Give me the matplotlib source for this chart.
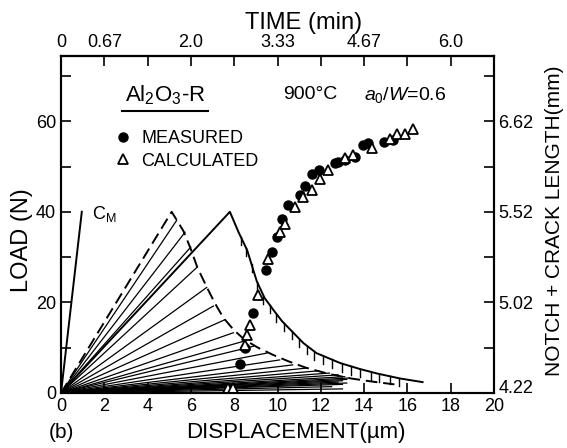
import matplotlib.pyplot as plt
import numpy as np

plt.rcParams['font.family'] = ['Liberation Sans', 'DejaVu Sans']
plt.rcParams['mathtext.fontset'] = 'custom'
plt.rcParams['mathtext.rm'] = 'Liberation Sans'
plt.rcParams['mathtext.it'] = 'Liberation Sans:italic'

# load-displacement curves (displacement in um, load in N)
cm_x = [0, 0.96]
cm_y = [0, 40]

dash_x = [0, 5.11, 5.65, 5.96, 6.3, 6.73, 7.11, 7.5, 8.0, 8.5, 9.1, 9.8, 10.5, 11.3, 12.3, 13.4, 14.4, 15.4]
dash_y = [0, 40, 35.8, 32.2, 27.7, 23.4, 19.8, 16.6, 13.8, 11.7, 10.0, 8.4, 7.0, 5.6, 4.3, 3.2, 2.5, 1.9]

solid_x = [0, 7.8, 8.2, 8.6, 9.04, 9.4, 9.8, 10.2, 10.73, 11.2, 11.8, 12.4, 12.9, 13.8, 14.6, 15.66, 16.7]
solid_y = [0, 40, 35.5, 31.5, 24.7, 21.0, 18.4, 15.9, 13.3, 11.0, 8.8, 7.6, 6.6, 5.3, 4.3, 3.2, 2.4]

# hatch marks on the solid descending branch
hatch_x = [8.3, 8.55, 8.8, 9.05, 9.35, 9.65, 9.95, 10.3, 10.65, 11.0, 11.35, 11.7,
           12.1, 12.5, 13.0, 13.4, 13.8, 14.3, 14.7, 15.2, 15.6]

# unloading lines from the origin (end points)
fan_x = [5.34, 5.73, 5.99, 6.27, 6.73, 7.04, 7.58, 7.96, 8.42, 8.88, 9.5, 10.1, 10.7,
         11.35, 11.9, 12.4, 12.8, 13.1, 13.3, 13.2, 13.0, 12.8, 13.2, 13.0, 12.5, 13.0]
fan_y = [38.1, 35.5, 32.2, 27.7, 23.3, 19.2, 16.2, 13.3, 11.4, 10.3, 8.8, 7.3, 6.2,
         5.5, 4.9, 4.4, 4.0, 3.6, 3.3, 3.0, 2.7, 2.4, 2.2, 1.9, 1.4, 0.9]

# notch + crack length (mm) vs displacement
meas_x = [8.27, 8.5, 8.85, 9.47, 9.73, 9.96, 10.2, 10.5, 11.04, 11.27, 11.58, 11.9,
          12.66, 12.8, 13.1, 13.6, 13.96, 14.2, 14.9, 15.35]
meas_a = [4.48, 4.62, 4.93, 5.20, 5.30, 5.38, 5.48, 5.60, 5.72, 5.83, 5.98, 6.03,
          6.11, 6.13, 6.15, 6.19, 6.33, 6.35, 6.37, 6.39]
calc_x = [7.7, 7.95, 8.5, 8.58, 8.73, 9.11, 9.58, 10.1, 10.35, 10.8, 11.2, 11.58,
          11.96, 12.35, 13.1, 13.5, 14.35, 15.2, 15.5, 15.9, 16.27]
calc_a = [4.26, 4.26, 4.64, 4.73, 4.82, 5.06, 5.26, 5.41, 5.45, 5.58, 5.70, 5.78,
          5.92, 6.03, 6.17, 6.21, 6.29, 6.41, 6.46, 6.47, 6.52]

# axis tick values
x_ticks = list(range(0, 21, 2))
load_ticks = [0, 20, 40, 60]
crack_ticks = [4.22, 5.02, 5.52, 6.62]
crack_labels = ['4.22', '5.02', '5.52', '6.62']
time_ticks = [0, 2 / 3, 2.0, 10 / 3, 14 / 3, 6.0]
time_labels = ['0', '0.67', '2.0', '3.33', '4.67', '6.0']

# right axis is not linear: crack length at the load grid lines
MM_REF = [3.42, 4.22, 5.02, 5.52, 6.62, 7.445, 8.27]
LOAD_REF = [-20, 0, 20, 40, 60, 75, 90]


def mm_to_load(v):
    return np.interp(v, MM_REF, LOAD_REF)


def load_to_mm(v):
    return np.interp(v, LOAD_REF, MM_REF)


YTOP = 74.5

fig = plt.figure(figsize=(5.67, 4.48), dpi=100)
ax = fig.add_subplot(111)
fig.subplots_adjust(left=0.1076, right=0.8713, bottom=0.1228, top=0.876)

lw = 1.4
ax.plot(cm_x, cm_y, color='k', lw=lw)
ax.plot(dash_x, dash_y, color='k', lw=lw, ls=(0, (6, 3)))
ax.plot(solid_x, solid_y, color='k', lw=lw)
for fx, fy in zip(fan_x, fan_y):
    ax.plot([0, fx], [0, fy], color='k', lw=0.9)
hatch_y = np.interp(hatch_x, solid_x[1:], solid_y[1:])
for hx, hy in zip(hatch_x, hatch_y):
    ax.plot([hx, hx], [hy, hy - 1.8], color='k', lw=1.0)

ax.set_xlim(0, 20)
ax.set_ylim(0, YTOP)
ax.set_xticks(x_ticks)
ax.set_yticks(load_ticks)
ax.set_yticks([10, 30, 50, 70], minor=True)
ax.tick_params(which='both', direction='in', length=7, width=1.2, labelsize=13)

# right axis: crack length
ax2 = ax.twinx()
ax2.set_yscale('function', functions=(mm_to_load, load_to_mm))
ax2.set_ylim(4.22, float(load_to_mm(YTOP)))
ax2.plot(meas_x, meas_a, 'o', color='k', ms=6.5, label='MEASURED')
ax2.plot(calc_x, calc_a, '^', mfc='white', mec='k', mew=1.3, ms=7.5, label='CALCULATED')
ax2.set_yticks(crack_ticks, labels=crack_labels)
ax2.set_yticks(load_to_mm([10, 30, 50, 70]), minor=True)
ax2.yaxis.set_minor_formatter(plt.NullFormatter())
ax2.tick_params(which='both', direction='in', length=7, width=1.2, labelsize=13, pad=3)
ax2.get_yticklabels()[0].set_va('baseline')

# top axis: time
secax = ax.secondary_xaxis('top', functions=(lambda x: x / 3, lambda t: t * 3))
secax.set_xticks(time_ticks, labels=time_labels)
secax.set_xticks([4 / 3, 8 / 3, 4, 16 / 3, 20 / 3], minor=True)
secax.tick_params(which='both', direction='in', length=7, width=1.2, labelsize=13, pad=3)

for a in (ax, ax2):
    for s in a.spines.values():
        s.set_linewidth(1.5)
secax.spines['top'].set_linewidth(1.5)

# axis titles
fig.text(304 / 567, 1 - 23 / 448, 'TIME (min)', fontsize=17, ha='center', va='center')
fig.text(296 / 567, 1 - 432 / 448, 'DISPLACEMENT(\u00b5m)', fontsize=16, ha='center', va='center')
fig.text(22 / 567, 1 - 240 / 448, 'LOAD (N)', fontsize=17, ha='center', va='center', rotation=90)
fig.text(555 / 567, 1 - 221 / 448, 'NOTCH + CRACK LENGTH(mm)', fontsize=15,
         ha='center', va='center', rotation=90)
fig.text(61 / 567, 1 - 432 / 448, '(b)', fontsize=15, ha='center', va='center')

# annotations
ax.text(1.45, 38.5, 'C$_\\mathregular{M}$', fontsize=13)
ax.text(4.8, 65.8, 'Al$_\\mathregular{2}$O$_\\mathregular{3}$-R', fontsize=16, ha='center', va='center')
ax.plot([2.8, 6.8], [62.2, 62.2], color='k', lw=1.5)
ax.text(11.5, 65.8, '900\u00b0C', fontsize=14, ha='center', va='center')
ax.text(15.9, 65.8, '$a_0/W$=0.6', fontsize=14, ha='center', va='center')
ax2.legend(loc='upper left', bbox_to_anchor=(0.11, 0.80), frameon=False, numpoints=1,
           handlelength=0.8, handletextpad=0.6, labelspacing=0.3, fontsize=13,
           borderaxespad=0)

fig.savefig('out.png', dpi=100)
